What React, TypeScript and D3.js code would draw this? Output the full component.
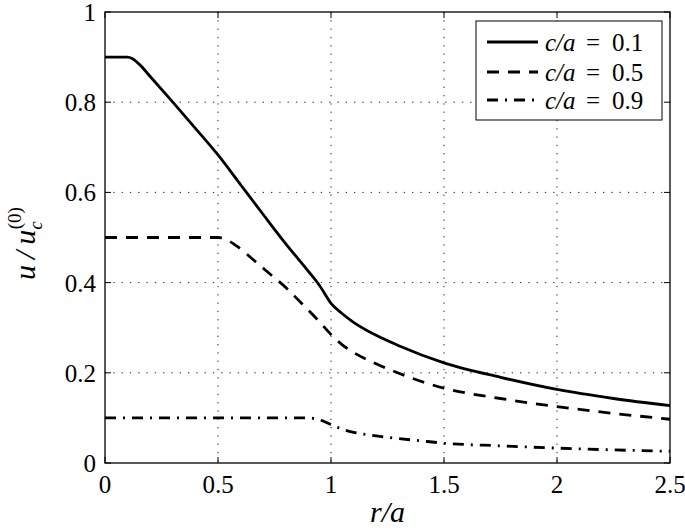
import React from "react";
import * as d3 from "d3";

// ---- data ----
const xTicks = [0, 0.5, 1, 1.5, 2, 2.5];
const xTickLabels = ["0", "0.5", "1", "1.5", "2", "2.5"];
const yTicks = [0, 0.2, 0.4, 0.6, 0.8, 1];
const yTickLabels = ["0", "0.2", "0.4", "0.6", "0.8", "1"];

const seriesNames = ["0.1", "0.5", "0.9"];

const r01 = [0, 0.1, 0.12, 0.15, 0.2, 0.3, 0.4, 0.5, 0.6, 0.7, 0.8, 0.9, 0.95, 1.0, 1.05, 1.1, 1.2, 1.3, 1.5, 1.75, 2.0, 2.25, 2.5];
const u01 = [0.9, 0.9, 0.897, 0.885, 0.857, 0.8, 0.742, 0.683, 0.617, 0.551, 0.486, 0.425, 0.393, 0.354, 0.331, 0.312, 0.283, 0.26, 0.222, 0.19, 0.163, 0.143, 0.127];

const r05 = [0, 0.5, 0.53, 0.58, 0.66, 0.73, 0.8, 0.86, 0.94, 1.0, 1.05, 1.1, 1.2, 1.3, 1.5, 1.75, 2.0, 2.25, 2.5];
const u05 = [0.5, 0.5, 0.497, 0.482, 0.449, 0.419, 0.389, 0.359, 0.318, 0.285, 0.262, 0.245, 0.22, 0.199, 0.166, 0.143, 0.125, 0.11, 0.097];

const r09 = [0, 0.9, 0.93, 0.97, 1.0, 1.05, 1.1, 1.2, 1.4, 1.5, 1.75, 2.0, 2.25, 2.5];
const u09 = [0.1, 0.1, 0.098, 0.092, 0.085, 0.075, 0.068, 0.06, 0.049, 0.044, 0.038, 0.033, 0.029, 0.026];

const W = 685;
const H = 532;
const M = { left: 105, right: 670, top: 12, bottom: 463 };
const FONT = '"Times New Roman", "Liberation Serif", Tinos, serif';

const x = d3.scaleLinear().domain([0, 2.5]).range([M.left, M.right]);
const y = d3.scaleLinear().domain([0, 1]).range([M.bottom, M.top]);

const line = d3
  .line<[number, number]>()
  .x((d) => x(d[0]))
  .y((d) => y(d[1]))
  .curve(d3.curveMonotoneX);

const series = [
  { name: seriesNames[0], r: r01, u: u01, dash: "none" },
  { name: seriesNames[1], r: r05, u: u05, dash: "12,9" },
  { name: seriesNames[2], r: r09, u: u09, dash: "11,7,2,7" },
];

const txt: React.CSSProperties = { fontFamily: FONT };

export default function App() {
  const tickLen = 6;
  const legend = { x0: 476, y0: 21, x1: 662, y1: 120 };
  const legendRows = [42, 72, 100];
  return (
    <svg
      width={W}
      height={H}
      style={{ position: "absolute", left: 0, top: 0, background: "#fff", fontFamily: FONT }}
    >
      <rect x={0} y={0} width={W} height={H} fill="#fff" />
      {/* grid */}
      {xTicks.slice(1, -1).map((t) => (
        <line key={"gx" + t} x1={x(t)} x2={x(t)} y1={M.top} y2={M.bottom} stroke="#222" strokeWidth={1} strokeDasharray="1.3,7" />
      ))}
      {yTicks.slice(1, -1).map((t) => (
        <line key={"gy" + t} x1={M.left} x2={M.right} y1={y(t)} y2={y(t)} stroke="#222" strokeWidth={1} strokeDasharray="1.3,7" />
      ))}
      {/* series */}
      {series.map((s) => (
        <path
          key={s.name}
          d={line(s.r.map((rv, i) => [rv, s.u[i]] as [number, number])) || ""}
          fill="none"
          stroke="#000"
          strokeWidth={2.8}
          strokeDasharray={s.dash}
        />
      ))}
      {/* axes box */}
      <rect x={M.left} y={M.top} width={M.right - M.left} height={M.bottom - M.top} fill="none" stroke="#000" strokeWidth={1.3} />
      {xTicks.map((t, i) => (
        <g key={"xt" + t}>
          <line x1={x(t)} x2={x(t)} y1={M.bottom} y2={M.bottom - tickLen} stroke="#000" strokeWidth={1} />
          <line x1={x(t)} x2={x(t)} y1={M.top} y2={M.top + tickLen} stroke="#000" strokeWidth={1} />
          <text x={x(t)} y={493} fontSize={25} textAnchor="middle" fill="#000" style={txt}>
            {xTickLabels[i]}
          </text>
        </g>
      ))}
      {yTicks.map((t, i) => (
        <g key={"yt" + t}>
          <line x1={M.left} x2={M.left + tickLen} y1={y(t)} y2={y(t)} stroke="#000" strokeWidth={1} />
          <line x1={M.right} x2={M.right - tickLen} y1={y(t)} y2={y(t)} stroke="#000" strokeWidth={1} />
          <text x={96} y={y(t) + 9} fontSize={25} textAnchor="end" fill="#000" style={txt}>
            {yTickLabels[i]}
          </text>
        </g>
      ))}
      {/* x label */}
      <text x={(M.left + M.right) / 2} y={522} fontSize={30} fontStyle="italic" textAnchor="middle" fill="#000" style={txt}>
        r/a
      </text>
      {/* y label */}
      <text transform="translate(35,280) rotate(-90)" fontSize={30} fill="#000" style={txt}>
        <tspan fontStyle="italic">{"u\u2009/\u2009u"}</tspan>
        <tspan fontStyle="italic" fontSize={19} dy={7}>c</tspan>
        <tspan fontSize={19} dx={-8} dy={-21}>(0)</tspan>
      </text>
      {/* legend */}
      <rect x={legend.x0} y={legend.y0} width={legend.x1 - legend.x0} height={legend.y1 - legend.y0} fill="#fff" stroke="#000" strokeWidth={1} />
      {series.map((s, i) => (
        <g key={"lg" + s.name}>
          <line x1={487} x2={538} y1={legendRows[i]} y2={legendRows[i]} stroke="#000" strokeWidth={2.8} strokeDasharray={s.dash} />
          <text x={545} y={legendRows[i] + 9} fontSize={25} fontStyle="italic" fill="#000" style={txt}>c/a</text>
          <text x={586} y={legendRows[i] + 9} fontSize={25} fill="#000" style={txt}>=</text>
          <text x={612} y={legendRows[i] + 9} fontSize={25} fill="#000" style={txt}>{s.name}</text>
        </g>
      ))}
    </svg>
  );
}
